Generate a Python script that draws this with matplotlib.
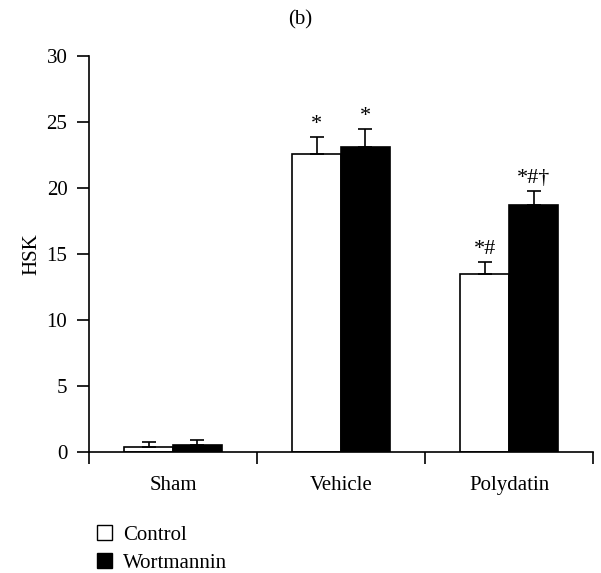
import numpy as np
import matplotlib.pyplot as plt
from matplotlib.patches import Patch

plt.rcParams['font.family'] = ['Liberation Serif', 'DejaVu Serif']

# 데이터
groups = ['Sham', 'Vehicle', 'Polydatin']
control = [0.4, 22.6, 13.5]
control_err = [0.4, 1.3, 0.9]
wort = [0.5, 23.1, 18.7]
wort_err = [0.4, 1.4, 1.1]
control_mark = ['', '*', '*#']
wort_mark = ['', '*', '*#\u2020']

fs = 15

fig = plt.figure(figsize=(6.01, 5.73), dpi=100)
ax = fig.add_axes([0.148, 0.211, 0.839, 0.691])

x = np.arange(len(groups)) + 0.5
w = 0.29

ax.bar(x - w/2, control, w, color='white', edgecolor='black', linewidth=1.2,
       yerr=[np.zeros(3), control_err], capsize=5,
       error_kw=dict(elinewidth=1.2, capthick=1.2, ecolor='black'))
ax.bar(x + w/2, wort, w, color='black', edgecolor='black', linewidth=1.2,
       yerr=[np.zeros(3), wort_err], capsize=5,
       error_kw=dict(elinewidth=1.2, capthick=1.2, ecolor='black'))

# 유의성 표시
for i in range(3):
    ax.text(x[i] - w/2, control[i] + control_err[i] + 0.2, control_mark[i],
            ha='center', va='bottom', fontsize=fs + 1)
    ax.text(x[i] + w/2, wort[i] + wort_err[i] + 0.2, wort_mark[i],
            ha='center', va='bottom', fontsize=fs + 1)

ax.set_xlim(0, 3)
ax.set_ylim(0, 30)
ax.set_yticks([0, 5, 10, 15, 20, 25, 30])
ax.set_xticks(x)
ax.set_xticklabels(groups)
ax.set_xticks([0, 1, 2, 3], minor=True)
ax.tick_params(axis='x', which='major', length=0, pad=17, labelsize=fs)
ax.tick_params(axis='x', which='minor', length=8.5, width=1.2, direction='out')
ax.tick_params(axis='y', length=8.5, width=1.2, direction='out', labelsize=fs, pad=7)
ax.set_ylabel('HSK', fontsize=fs, labelpad=4)

for s in ['top', 'right']:
    ax.spines[s].set_visible(False)
for s in ['left', 'bottom']:
    ax.spines[s].set_linewidth(1.2)

fig.text(0.5, 0.965, '(b)', ha='center', va='center', fontsize=fs)

handles = [Patch(facecolor='white', edgecolor='black', linewidth=1.0, label='Control'),
           Patch(facecolor='black', edgecolor='black', linewidth=1.0, label='Wortmannin')]
fig.legend(handles=handles, loc='upper left', bbox_to_anchor=(0.133, 0.113),
           frameon=False, fontsize=fs, handlelength=0.72, handleheight=0.72,
           handletextpad=0.55, labelspacing=0.4, borderpad=0.3)

fig.savefig('out.png', dpi=100)
